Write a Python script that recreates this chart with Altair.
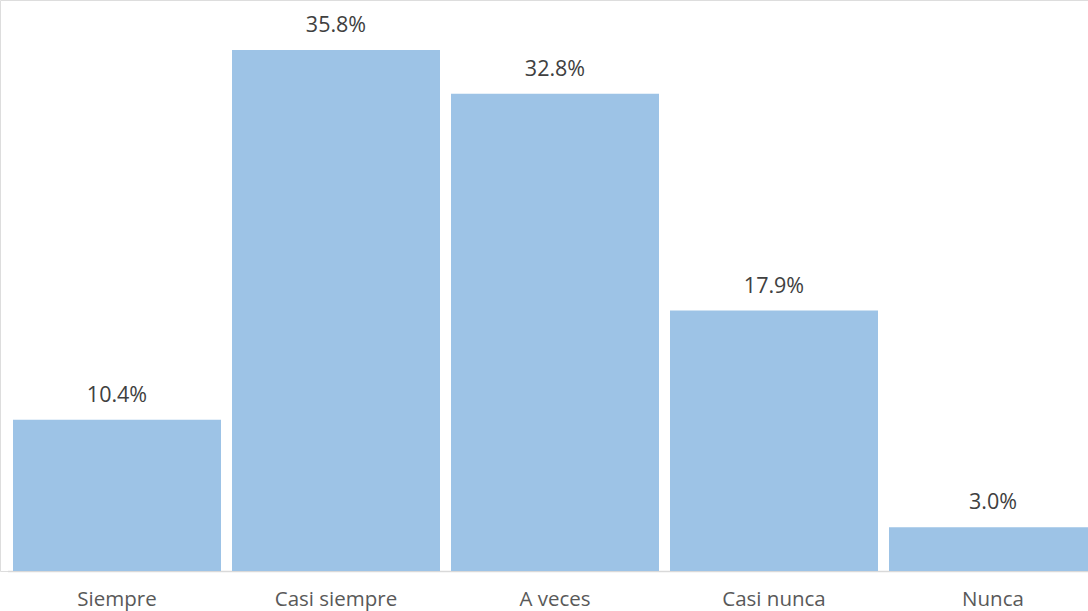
import altair as alt
import pandas as pd

categories = ["Siempre", "Casi siempre", "A veces", "Casi nunca", "Nunca"]
values = [10.4, 35.8, 32.8, 17.9, 3.0]
labels = ["10.4%", "35.8%", "32.8%", "17.9%", "3.0%"]

df = pd.DataFrame({"cat": categories, "val": values, "lab": labels})

FONT = "Open Sans"

x = alt.X(
    "cat:N",
    sort=categories,
    scale=alt.Scale(range=[7.5, 1102.5], paddingInner=0.0502, paddingOuter=0.0251),
    axis=alt.Axis(
        title=None,
        labelAngle=0,
        ticks=False,
        tickSize=0,
        labelPadding=34,
        labelBaseline="alphabetic",
        labelFont=FONT,
        labelFontSize=20.5,
        labelColor="#595959",
        domainColor="#D9D9D9",
        domainWidth=1.3,
        grid=False,
    ),
)
y = alt.Y("val:Q", scale=alt.Scale(domain=[0, 39.24], nice=False, zero=True), axis=None)

bars = alt.Chart(df).mark_bar(color="#9DC3E6").encode(x=x, y=y)
text = alt.Chart(df).mark_text(
    dy=-18, baseline="alphabetic", font=FONT, fontSize=21.5, color="#404040"
).encode(x=x, y=y, text="lab:N")

chart = (
    alt.layer(bars, text)
    .properties(
        width=1088,
        height=571,
        autosize=alt.AutoSizeParams(type="none"),
        padding={"left": 0, "top": 0, "right": 0, "bottom": 40},
    )
    .configure_view(stroke=None)
    .configure(background="white")
)

chart.save("out.html", embed_options={"renderer": "svg", "actions": False})
